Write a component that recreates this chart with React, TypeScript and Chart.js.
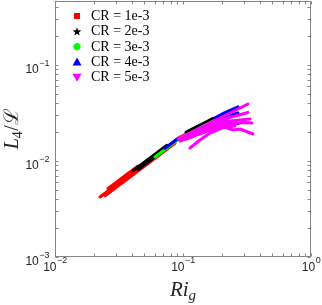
import { useEffect, useRef } from 'react';
import { Chart, registerables } from 'chart.js';

Chart.register(...registerables);

// ---- Data ----
const seriesLabels = ['CR = 1e-3', 'CR = 2e-3', 'CR = 3e-3', 'CR = 4e-3', 'CR = 5e-3'];
const seriesColors = ['#ff0000', '#000000', '#00ff00', '#0000ff', '#ff00ff'];
const seriesMarkers = ['square', 'star', 'circle', 'triangleUp', 'triangleDown'];

// CR = 1e-3 (red)
const cr1X = [
  [0.02246, 0.0269, 0.0322, 0.03855, 0.04615, 0.05524, 0.06613, 0.07916, 0.09475, 0.1037],
  [0.02458, 0.02943, 0.03523, 0.04217, 0.05049, 0.06613, 0.0866],
  [0.02595, 0.03107, 0.03718, 0.04451],
];
const cr1Y = [
  [0.00422, 0.00505, 0.00604, 0.00724, 0.00866, 0.01036, 0.01241, 0.01486, 0.01778, 0.01888],
  [0.00435, 0.0052, 0.00623, 0.00746, 0.00892, 0.01169, 0.01531],
  [0.00517, 0.00619, 0.00741, 0.00887],
];

// CR = 2e-3 (black)
const cr2X = [
  [0.04069, 0.05049, 0.06613, 0.07499],
  [0.1055, 0.1241, 0.1486, 0.1716],
  [0.04451, 0.05524, 0.07235],
];
const cr2Y = [
  [0.00792, 0.00982, 0.01287, 0.01459],
  [0.01985, 0.02223, 0.02518, 0.02785],
  [0.00816, 0.01012, 0.01326],
];

// CR = 3e-3 (green)
const cr3X = [[0.06043, 0.07235, 0.09475, 0.1241, 0.1626, 0.2017, 0.2329]];
const cr3Y = [[0.01101, 0.01318, 0.01736, 0.02079, 0.02493, 0.02929, 0.03239]];

// CR = 4e-3 (blue)
const cr4X = [
  [0.07235, 0.0914],
  [0.1778, 0.2129, 0.269],
  [0.1685, 0.2129, 0.269],
  [0.1778, 0.2246, 0.269],
];
const cr4Y = [
  [0.01358, 0.01716],
  [0.02818, 0.03193, 0.0367],
  [0.02428, 0.02579, 0.02458],
  [0.02738, 0.02979, 0.03162],
];

// CR = 5e-3 (magenta)
const cr5X = [
  [0.0914, 0.1358, 0.2129, 0.322],
  [0.09822, 0.1486, 0.2246, 0.322],
  [0.1037, 0.1568, 0.2329, 0.3337],
  [0.1094, 0.1626, 0.2414, 0.305, 0.346],
  [0.1055, 0.1626, 0.2129, 0.2458, 0.2788, 0.3523],
  [0.09475, 0.1486, 0.2017, 0.2548],
  [0.1134, 0.1358, 0.1626, 0.2017],
];
const cr5Y = [
  [0.01695, 0.02207, 0.02979, 0.03924],
  [0.01736, 0.0226, 0.02805, 0.032],
  [0.01778, 0.0226, 0.0261, 0.02738],
  [0.01778, 0.02181, 0.02458, 0.02518, 0.02487],
  [0.01695, 0.02103, 0.0226, 0.02103, 0.02154, 0.01911],
  [0.01616, 0.02054, 0.02234, 0.02315],
  [0.01366, 0.01655, 0.01957, 0.02207],
];

const allX = [cr1X, cr2X, cr3X, cr4X, cr5X];
const allY = [cr1Y, cr2Y, cr3Y, cr4Y, cr5Y];

// Axes
const xMin = 0.01;
const xMax = 1;
const yMin = 0.001;
const yMax = 0.464;
const xMajorTicks = [0.01, 0.1, 1];
const xTickExponents = ['\u22122', '\u22121', '0'];
const yMajorTicks = [0.001, 0.01, 0.1];
const yTickExponents = ['\u22123', '\u22122', '\u22121'];
const minorMultipliers = [2, 3, 4, 5, 6, 7, 8, 9];

function buildDatasets() {
  const ds: any[] = [];
  allX.forEach((lines, s) => {
    lines.forEach((xs, i) => {
      const ys = allY[s][i];
      ds.push({
        label: seriesLabels[s],
        data: xs.map((x, j) => ({ x, y: ys[j] })),
        showLine: true,
        borderColor: seriesColors[s],
        backgroundColor: seriesColors[s],
        borderWidth: 3,
        pointRadius: 0,
        tension: 0,
        borderCapStyle: 'round',
        borderJoinStyle: 'round',
        order: 4 - s,
      });
    });
  });
  return ds;
}

function drawMarker(ctx: CanvasRenderingContext2D, kind: string, cx: number, cy: number, color: string) {
  ctx.save();
  ctx.fillStyle = color;
  ctx.beginPath();
  if (kind === 'square') {
    ctx.rect(cx - 3, cy - 3, 6, 6);
  } else if (kind === 'circle') {
    ctx.arc(cx, cy, 3.6, 0, Math.PI * 2);
  } else if (kind === 'triangleUp') {
    ctx.moveTo(cx, cy - 4.5);
    ctx.lineTo(cx + 4.5, cy + 3.5);
    ctx.lineTo(cx - 4.5, cy + 3.5);
    ctx.closePath();
  } else if (kind === 'triangleDown') {
    ctx.moveTo(cx, cy + 4.5);
    ctx.lineTo(cx + 4.5, cy - 3.5);
    ctx.lineTo(cx - 4.5, cy - 3.5);
    ctx.closePath();
  } else if (kind === 'star') {
    const ro = 4.6;
    const ri = 1.9;
    for (let k = 0; k < 10; k++) {
      const r = k % 2 === 0 ? ro : ri;
      const a = -Math.PI / 2 + (k * Math.PI) / 5;
      const px = cx + r * Math.cos(a);
      const py = cy + r * Math.sin(a) + 0.5;
      if (k === 0) ctx.moveTo(px, py);
      else ctx.lineTo(px, py);
    }
    ctx.closePath();
  }
  ctx.fill();
  ctx.restore();
}

const axesPlugin = {
  id: 'matlabAxes',
  afterDraw(chart: any) {
    const ctx: CanvasRenderingContext2D = chart.ctx;
    const xs = chart.scales.x;
    const ys = chart.scales.y;
    const { left, right, top, bottom } = chart.chartArea;
    const L = Math.round(left) + 0.5;
    const R = Math.round(right) - 0.5;
    const T = Math.round(top) + 0.5;
    const B = Math.round(bottom) - 0.5;
    ctx.save();
    ctx.strokeStyle = '#858585';
    ctx.lineWidth = 1;
    ctx.strokeRect(L, T, R - L, B - T);

    const tl = 3;
    ctx.beginPath();
    const xTickVals: number[] = [];
    xMajorTicks.forEach((v, i) => {
      xTickVals.push(v);
      if (i < xMajorTicks.length - 1) minorMultipliers.forEach((m) => xTickVals.push(v * m));
    });
    xTickVals.forEach((v) => {
      const p = Math.round(xs.getPixelForValue(v)) + 0.5;
      ctx.moveTo(p, B);
      ctx.lineTo(p, B - tl);
      ctx.moveTo(p, T);
      ctx.lineTo(p, T + tl);
    });
    const yTickVals: number[] = [];
    yMajorTicks.forEach((v) => {
      yTickVals.push(v);
      minorMultipliers.forEach((m) => {
        if (v * m <= yMax) yTickVals.push(v * m);
      });
    });
    yTickVals.forEach((v) => {
      const p = Math.round(ys.getPixelForValue(v)) + 0.5;
      ctx.moveTo(L, p);
      ctx.lineTo(L + tl, p);
      ctx.moveTo(R, p);
      ctx.lineTo(R - tl, p);
    });
    ctx.stroke();

    // tick labels
    const baseFont = "12px 'Liberation Sans', Arial, sans-serif";
    const supFont = "9px 'Liberation Sans', Arial, sans-serif";
    ctx.fillStyle = '#262626';
    ctx.textBaseline = 'middle';
    ctx.textAlign = 'left';
    xMajorTicks.forEach((v, i) => {
      const p = xs.getPixelForValue(v);
      ctx.font = baseFont;
      const w1 = ctx.measureText('10').width;
      ctx.font = supFont;
      const w2 = ctx.measureText(xTickExponents[i]).width;
      const sx = p - (w1 + w2) / 2;
      ctx.font = baseFont;
      ctx.fillText('10', sx, 267.5);
      ctx.font = supFont;
      ctx.fillText(xTickExponents[i], sx + w1 + 0.5, 261);
    });
    yMajorTicks.forEach((v, i) => {
      const p = ys.getPixelForValue(v);
      ctx.font = baseFont;
      const w1 = ctx.measureText('10').width;
      ctx.font = supFont;
      const w2 = ctx.measureText(yTickExponents[i]).width;
      const sx = 49 - (w1 + w2);
      ctx.font = baseFont;
      ctx.fillText('10', sx, p + 4.5);
      ctx.font = supFont;
      ctx.fillText(yTickExponents[i], sx + w1 + 0.5, p - 1);
    });

    // axis titles
    ctx.fillStyle = '#262626';
    ctx.textBaseline = 'alphabetic';
    const fItal = "italic 21px 'Liberation Serif', 'DejaVu Serif', serif";
    const fSubItal = "italic 15px 'Liberation Serif', 'DejaVu Serif', serif";
    ctx.font = fItal;
    const wRi = ctx.measureText('Ri').width;
    ctx.font = fSubItal;
    const wg = ctx.measureText('g').width;
    const cxT = (left + right) / 2;
    const sxT = cxT - (wRi + wg) / 2;
    ctx.font = fItal;
    ctx.fillText('Ri', sxT, 296);
    ctx.font = fSubItal;
    ctx.fillText('g', sxT + wRi, 300);

    ctx.save();
    ctx.translate(18, (top + bottom) / 2);
    ctx.rotate(-Math.PI / 2);
    const fL = "italic 20px 'Liberation Serif', 'DejaVu Serif', serif";
    const fSub = "14px 'Liberation Serif', 'DejaVu Serif', serif";
    const fUp = "20px 'Liberation Serif', 'DejaVu Serif', serif";
    const fCal = "20px 'DejaVu Serif', serif";
    ctx.font = fL;
    const wL = ctx.measureText('L').width;
    ctx.font = fSub;
    const w4 = ctx.measureText('4').width;
    ctx.font = fUp;
    const wS = ctx.measureText('/').width;
    ctx.font = fCal;
    const wC = ctx.measureText('\u2112').width;
    let px = -(wL + w4 + wS + wC) / 2;
    ctx.font = fL;
    ctx.fillText('L', px, 0);
    px += wL;
    ctx.font = fSub;
    ctx.fillText('4', px, 4);
    px += w4 + 0.5;
    ctx.font = fUp;
    ctx.fillText('/', px, 0);
    px += wS;
    ctx.font = fCal;
    ctx.fillText('\u2112', px, 0);
    ctx.restore();

    // legend
    ctx.font = "14px 'Liberation Serif', 'DejaVu Serif', serif";
    ctx.textBaseline = 'middle';
    ctx.textAlign = 'left';
    seriesLabels.forEach((lab, i) => {
      const cy = 16 + i * 15.3;
      drawMarker(ctx, seriesMarkers[i], 77, cy, seriesColors[i]);
      ctx.fillStyle = '#000000';
      ctx.fillText(lab, 91, cy + 0.5);
    });
    ctx.restore();
  },
};

export default function App() {
  const ref = useRef<HTMLCanvasElement>(null);
  useEffect(() => {
    if (!ref.current) return;
    const chart = new Chart(ref.current, {
      type: 'scatter',
      data: { datasets: buildDatasets() },
      options: {
        animation: false,
        responsive: false,
        devicePixelRatio: 1,
        layout: { padding: { left: 55, right: 11, top: 1, bottom: 48 } },
        plugins: { legend: { display: false }, tooltip: { enabled: false } },
        scales: {
          x: { type: 'logarithmic', min: xMin, max: xMax, display: false },
          y: { type: 'logarithmic', min: yMin, max: yMax, display: false },
        },
      } as any,
      plugins: [axesPlugin],
    });
    return () => chart.destroy();
  }, []);
  return (
    <div style={{ position: 'absolute', left: 0, top: 0, width: 322, height: 305, background: '#ffffff' }}>
      <canvas ref={ref} width={322} height={305} style={{ display: 'block', width: 322, height: 305 }} />
    </div>
  );
}
